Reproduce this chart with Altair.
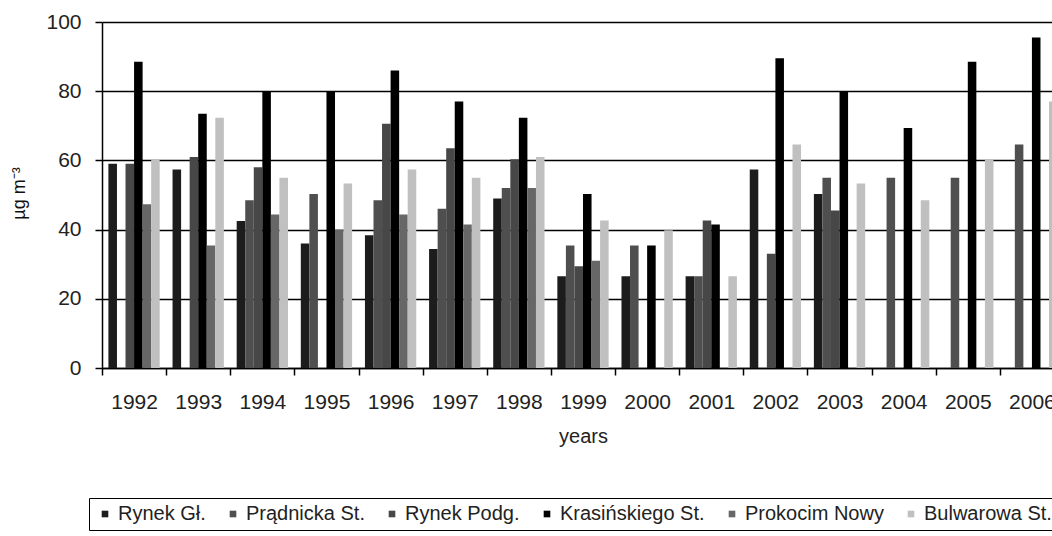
import altair as alt
import pandas as pd

# Annual mean concentrations (µg m-3) at Kraków monitoring stations
years = [str(y) for y in range(1992, 2007)]
stations = ["Rynek Gł.", "Prądnicka St.", "Rynek Podg.", "Krasińskiego St.",
            "Prokocim Nowy", "Bulwarowa St."]
colors = ["#1c1c1c", "#4f4f4f", "#474747", "#000000", "#676767", "#c0c0c0"]

rynek_gl = [59, 57.4, 42.5, 36, 38.4, 34.4, 49, 26.5, 26.5, 26.5, 57.4, 50.3, None, None, None]
pradnicka = [None, None, 48.5, 50.3, 48.5, 46, 52, 35.4, 35.4, 26.5, None, 55, 55, 55, 64.6]
rynek_podg = [59, 61, 58, None, 70.6, 63.5, 60.3, 29.4, None, 42.6, 33, 45.5, None, None, None]
krasinskiego = [88.5, 73.5, 80, 80, 86, 77, 72.3, 50.3, 35.4, 41.5, 89.5, 79.8, 69.4, 88.5, 95.5]
prokocim = [47.3, 35.4, 44.4, 40, 44.4, 41.5, 52, 31, None, None, None, None, None, None, None]
bulwarowa = [60.3, 72.3, 55, 53.3, 57.4, 55, 61, 42.6, 39.8, 26.5, 64.6, 53.3, 48.5, 60.3, 77]

series = [rynek_gl, pradnicka, rynek_podg, krasinskiego, prokocim, bulwarowa]

rows = []
for name, vals in zip(stations, series):
    for yr, v in zip(years, vals):
        if v is not None:
            rows.append({"year": yr, "station": name, "value": v})
df = pd.DataFrame(rows)

FONT = "Liberation Sans"

chart = alt.Chart(df).mark_bar().encode(
    x=alt.X(
        "year:N", sort=years,
        scale=alt.Scale(domain=years, range=[0, 962], paddingInner=0, paddingOuter=0),
        axis=alt.Axis(
            title="years", labelAngle=0, tickBand="extent", tickSize=7,
            labelPadding=16, labelFontSize=21, labelColor="#222",
            titleFontSize=20, titleFontWeight="normal", titleColor="#222",
            titleY=68, titleBaseline="middle",
            domainColor="#000", domainWidth=1.5, tickColor="#000", tickWidth=1.5,
            grid=False,
        ),
    ),
    xOffset=alt.XOffset(
        "station:N", sort=stations,
        scale=alt.Scale(domain=stations, paddingOuter=0.75, paddingInner=0),
    ),
    y=alt.Y(
        "value:Q",
        scale=alt.Scale(domain=[0, 100], nice=False),
        axis=alt.Axis(
            values=[0, 20, 40, 60, 80, 100], title="µg m⁻³",
            tickSize=7, labelPadding=14, labelFontSize=21, labelColor="#222",
            titleFontSize=18, titleFontWeight="normal", titleColor="#111",
            titleX=-83, titleY=171, titleBaseline="middle",
            domainColor="#000", domainWidth=1.5, tickColor="#000", tickWidth=1.5,
            grid=True, gridColor="#000", gridWidth=1.4,
        ),
    ),
    color=alt.Color(
        "station:N", sort=stations,
        scale=alt.Scale(domain=stations, range=colors),
        legend=alt.Legend(
            title=None, orient="none", direction="horizontal",
            legendX=-13, legendY=476, padding=6,
            symbolType="square", symbolSize=44, symbolStrokeWidth=0,
            labelFontSize=20, labelColor="#222", labelOffset=3,
            columnPadding=17, strokeColor="#000", labelLimit=300,
        ),
    ),
).properties(
    width=950, height=346,
    autosize=alt.AutoSizeParams(type="none"),
    padding={"left": 102, "top": 22, "right": 0, "bottom": 168},
).configure(font=FONT).configure_view(stroke=None)

chart.save("out.html", embed_options={"renderer": "svg", "actions": False})
